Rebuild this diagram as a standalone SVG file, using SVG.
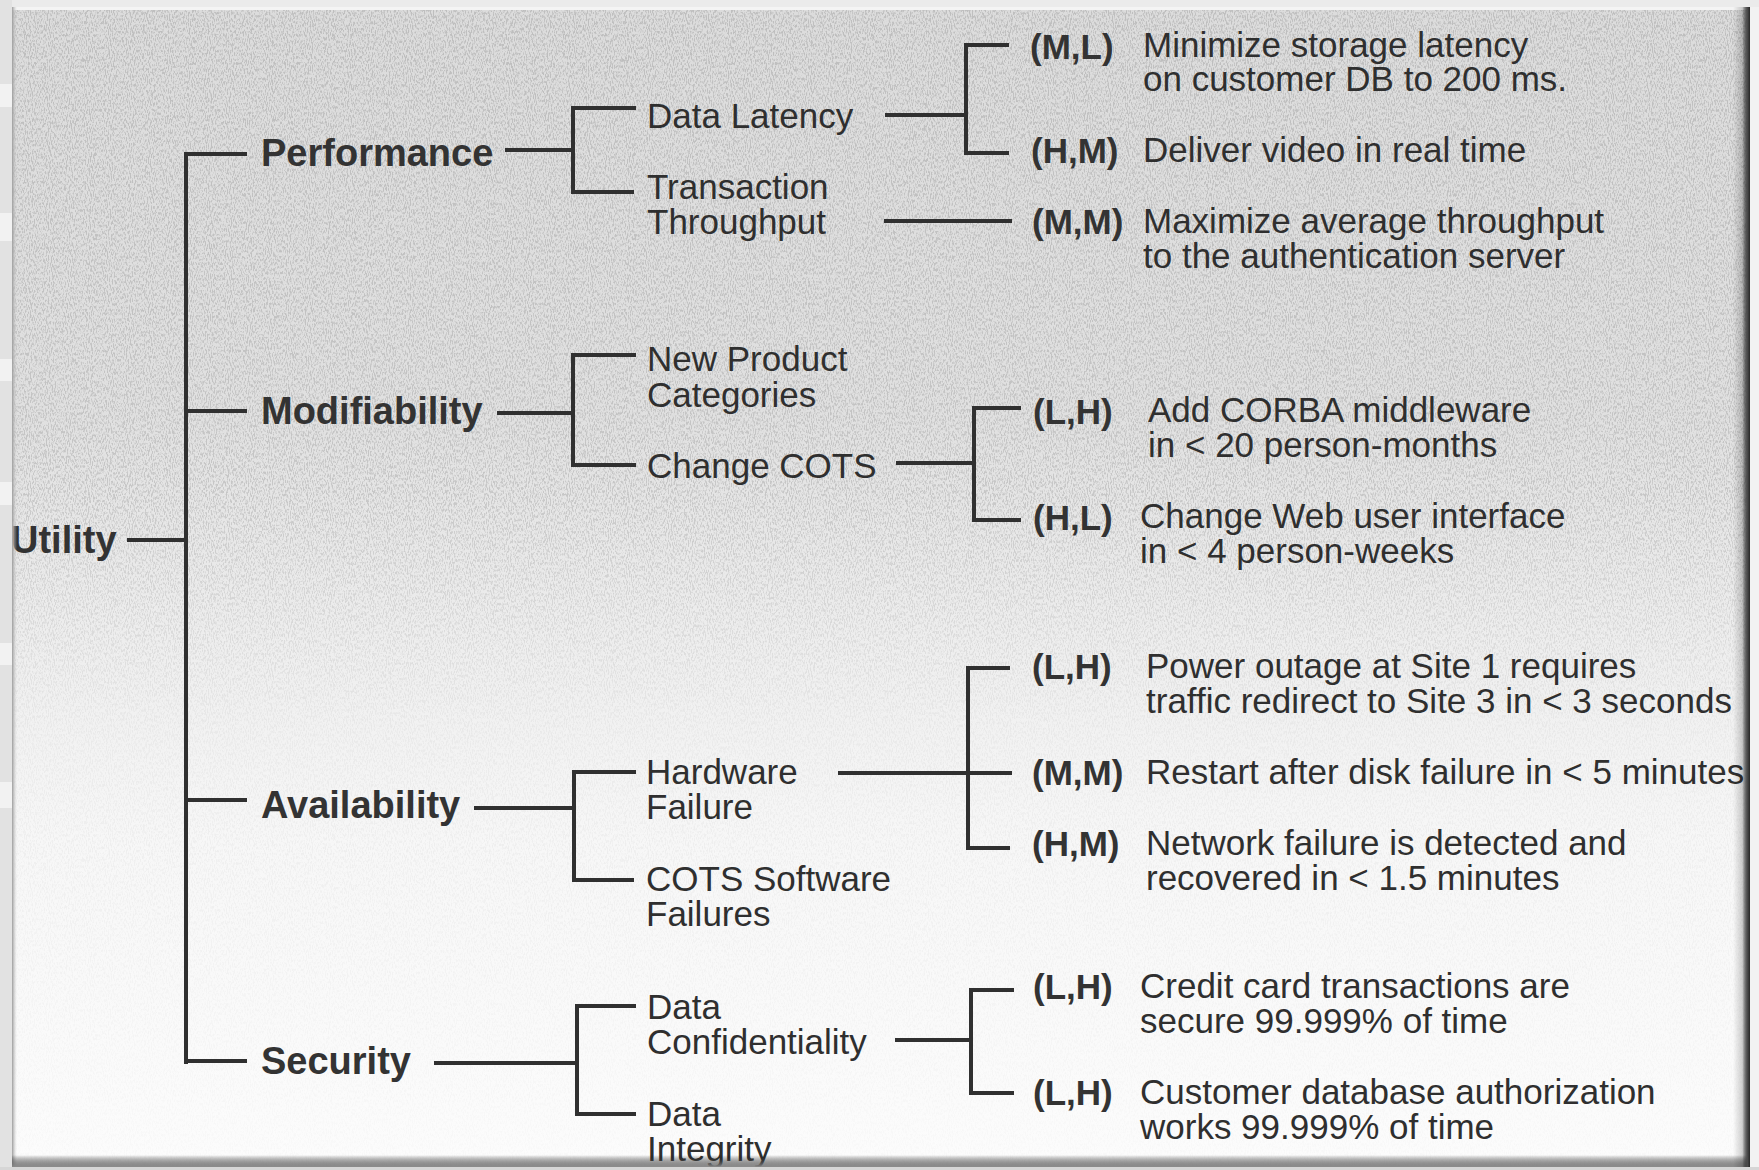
<svg xmlns="http://www.w3.org/2000/svg" width="1759" height="1170" viewBox="0 0 1759 1170">
  <style>
    .t1 { font-family: "Liberation Sans", Arial, Helvetica, sans-serif; font-size: 38px; font-weight: bold; fill: #333333; }
    .t2 { font-family: "Liberation Sans", Arial, Helvetica, sans-serif; font-size: 35px; fill: #2f2f2f; }
    .pr { font-family: "Liberation Sans", Arial, Helvetica, sans-serif; font-size: 35px; font-weight: bold; fill: #333333; }
    .ln { fill: none; stroke: #303030; stroke-width: 4; stroke-linecap: square; stroke-linejoin: miter; }
  </style>
  <defs>
    <linearGradient id="paper" x1="0" y1="0" x2="0" y2="1">
      <stop offset="0" stop-color="#dcdcdc"/>
      <stop offset="0.35" stop-color="#e0e0e0"/>
      <stop offset="0.55" stop-color="#eeeeee"/>
      <stop offset="0.72" stop-color="#f7f7f7"/>
      <stop offset="1" stop-color="#fcfcfc"/>
    </linearGradient>
    <linearGradient id="fade" x1="0" y1="0" x2="0" y2="1">
      <stop offset="0" stop-color="#fff" stop-opacity="1"/>
      <stop offset="0.42" stop-color="#fff" stop-opacity="0.85"/>
      <stop offset="0.62" stop-color="#fff" stop-opacity="0.2"/>
      <stop offset="1" stop-color="#fff" stop-opacity="0.06"/>
    </linearGradient>
    <mask id="grainMask" maskUnits="userSpaceOnUse" x="0" y="0" width="1759" height="1170">
      <rect x="12" y="7" width="1736" height="1160" fill="url(#fade)"/>
    </mask>
    <!-- speckled scan texture, slightly stretched vertically -->
    <filter id="grain" x="0" y="0" width="100%" height="100%" filterUnits="objectBoundingBox">
      <feTurbulence type="fractalNoise" baseFrequency="0.95 0.32" numOctaves="2" seed="7"/>
      <feColorMatrix type="matrix" values="0 0 0 0 0.4  0 0 0 0 0.4  0 0 0 0 0.4  5 0 0 0 -2.3"/>
    </filter>
    <linearGradient id="leftEdge" x1="0" y1="0" x2="1" y2="0">
      <stop offset="0" stop-color="#9c9c9c"/>
      <stop offset="1" stop-color="#d4d4d4" stop-opacity="0"/>
    </linearGradient>
    <linearGradient id="rightEdge" x1="0" y1="0" x2="1" y2="0">
      <stop offset="0" stop-color="#000" stop-opacity="0"/>
      <stop offset="0.55" stop-color="#000" stop-opacity="0.18"/>
      <stop offset="0.85" stop-color="#4a4a4a"/>
      <stop offset="1" stop-color="#262626"/>
    </linearGradient>
    <linearGradient id="bottomEdge" x1="0" y1="0" x2="0" y2="1">
      <stop offset="0" stop-color="#000" stop-opacity="0"/>
      <stop offset="1" stop-color="#8c8c8c"/>
    </linearGradient>
    <clipPath id="frameClip">
      <rect x="12" y="7" width="1736" height="1160"/>
    </clipPath>
  </defs>

  <!-- page around the scanned frame -->
  <rect x="0" y="0" width="1759" height="1170" fill="#f2f2f2"/>
  <g id="page-strip" fill="#e2e2e2">
    <rect x="0" y="0" width="12" height="84"/>
    <rect x="0" y="107" width="12" height="106"/>
    <rect x="0" y="241" width="12" height="118"/>
    <rect x="0" y="381" width="12" height="101"/>
    <rect x="0" y="505" width="12" height="138"/>
    <rect x="0" y="665" width="12" height="117"/>
    <rect x="0" y="808" width="12" height="362"/>
  </g>
  <rect x="12" y="0" width="1747" height="7" fill="#ebebeb"/>

  <!-- paper -->
  <rect id="paper-bg" x="12" y="7" width="1736" height="1160" fill="url(#paper)"/>
  <g mask="url(#grainMask)">
    <rect x="12" y="7" width="1736" height="1160" filter="url(#grain)" opacity="0.6"/>
  </g>

  <g clip-path="url(#frameClip)">
    <!-- connectors -->
    <g id="connectors" class="ln">
      <path d="M129,540 H186 M186,154 V1062 M186,154 H245 M186,411 H245 M186,800 H245 M186,1061 H245"/>
      <path d="M507,150 H573 M573,108 V192 M573,108 H634 M573,192 H632"/>
      <path d="M887,115 H966 M966,45 V153 M966,45 H1007 M966,153 H1007"/>
      <path d="M886,221 H1010"/>
      <path d="M499,413 H573 M573,355 V465 M573,355 H634 M573,465 H634"/>
      <path d="M898,463 H974 M974,408 V520 M974,408 H1019 M974,520 H1019"/>
      <path d="M476,808 H574 M574,772 V880 M574,772 H634 M574,880 H632"/>
      <path d="M840,773 H1010 M968,668 V848 M968,668 H1008 M968,848 H1008"/>
      <path d="M436,1063 H577 M577,1006 V1114 M577,1006 H634 M577,1114 H634"/>
      <path d="M897,1040 H971 M971,990 V1093 M971,990 H1012 M971,1093 H1012"/>
    </g>

    <!-- root -->
    <g id="utility"><text class="t1" x="11" y="553">Utility</text></g>

    <!-- quality attributes -->
    <g id="performance"><text class="t1" x="261" y="166">Performance</text></g>
    <g id="modifiability"><text class="t1" x="261" y="424">Modifiability</text></g>
    <g id="availability"><text class="t1" x="261" y="818">Availability</text></g>
    <g id="security"><text class="t1" x="261" y="1074">Security</text></g>

    <!-- refinements -->
    <g id="data-latency"><text class="t2" x="647" y="128">Data Latency</text></g>
    <g id="transaction-throughput"><text class="t2" x="647" y="199">Transaction<tspan x="647" dy="35">Throughput</tspan></text></g>
    <g id="new-product-categories"><text class="t2" x="647" y="371">New Product<tspan x="647" dy="36">Categories</tspan></text></g>
    <g id="change-cots"><text class="t2" x="647" y="478">Change COTS</text></g>
    <g id="hardware-failure"><text class="t2" x="646" y="784">Hardware<tspan x="646" dy="35">Failure</tspan></text></g>
    <g id="cots-software-failures"><text class="t2" x="646" y="891">COTS Software<tspan x="646" dy="35">Failures</tspan></text></g>
    <g id="data-confidentiality"><text class="t2" x="647" y="1019">Data<tspan x="647" dy="35">Confidentiality</tspan></text></g>
    <g id="data-integrity"><text class="t2" x="647" y="1126">Data<tspan x="647" dy="35">Integrity</tspan></text></g>

    <!-- scenarios -->
    <g id="s-storage-latency">
      <text class="pr" x="1030" y="59">(M,L)</text>
      <text class="t2" x="1143" y="57">Minimize storage latency<tspan x="1143" dy="34">on customer DB to 200 ms.</tspan></text>
    </g>
    <g id="s-video">
      <text class="pr" x="1031" y="163">(H,M)</text>
      <text class="t2" x="1143" y="162">Deliver video in real time</text>
    </g>
    <g id="s-throughput">
      <text class="pr" x="1032" y="234">(M,M)</text>
      <text class="t2" x="1143" y="233">Maximize average throughput<tspan x="1143" dy="35">to the authentication server</tspan></text>
    </g>
    <g id="s-corba">
      <text class="pr" x="1033" y="424">(L,H)</text>
      <text class="t2" x="1148" y="422">Add CORBA middleware<tspan x="1148" dy="35">in &lt; 20 person-months</tspan></text>
    </g>
    <g id="s-web-ui">
      <text class="pr" x="1033" y="530">(H,L)</text>
      <text class="t2" x="1140" y="528">Change Web user interface<tspan x="1140" dy="35">in &lt; 4 person-weeks</tspan></text>
    </g>
    <g id="s-power-outage">
      <text class="pr" x="1032" y="679">(L,H)</text>
      <text class="t2" x="1146" y="678">Power outage at Site 1 requires<tspan x="1146" dy="35">traffic redirect to Site 3 in &lt; 3 seconds</tspan></text>
    </g>
    <g id="s-disk-failure">
      <text class="pr" x="1032" y="785">(M,M)</text>
      <text class="t2" x="1146" y="784">Restart after disk failure in &lt; 5 minutes</text>
    </g>
    <g id="s-network-failure">
      <text class="pr" x="1032" y="856">(H,M)</text>
      <text class="t2" x="1146" y="855">Network failure is detected and<tspan x="1146" dy="35">recovered in &lt; 1.5 minutes</tspan></text>
    </g>
    <g id="s-credit-card">
      <text class="pr" x="1033" y="999">(L,H)</text>
      <text class="t2" x="1140" y="998">Credit card transactions are<tspan x="1140" dy="35">secure 99.999% of time</tspan></text>
    </g>
    <g id="s-db-authorization">
      <text class="pr" x="1033" y="1105">(L,H)</text>
      <text class="t2" x="1140" y="1104">Customer database authorization<tspan x="1140" dy="35">works 99.999% of time</tspan></text>
    </g>
  </g>

  <!-- bevelled frame edges -->
  <rect x="12" y="7" width="1736" height="3" fill="#f4f4f4"/>
  <rect x="12" y="7" width="5" height="1160" fill="url(#leftEdge)"/>
  <rect x="12" y="1155" width="1736" height="12" fill="url(#bottomEdge)"/>
  <rect x="1733" y="7" width="17" height="1160" fill="url(#rightEdge)"/>
  <rect x="0" y="1167" width="1759" height="3" fill="#d6d6d6"/>
</svg>
